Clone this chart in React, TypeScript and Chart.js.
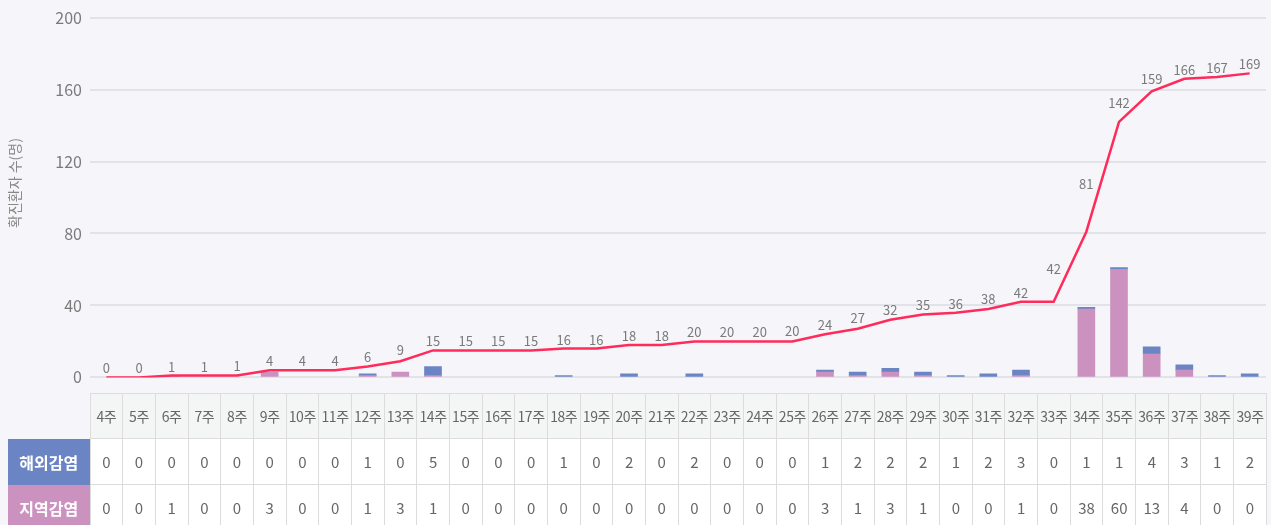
import React, { useEffect, useRef } from "react";
import { Chart, registerables } from "chart.js";

Chart.register(...registerables);

const weeks = [
  "4주", "5주", "6주", "7주", "8주", "9주", "10주", "11주", "12주", "13주", "14주", "15주",
  "16주", "17주", "18주", "19주", "20주", "21주", "22주", "23주", "24주", "25주", "26주", "27주",
  "28주", "29주", "30주", "31주", "32주", "33주", "34주", "35주", "36주", "37주", "38주", "39주",
];
const overseas = [0, 0, 0, 0, 0, 0, 0, 0, 1, 0, 5, 0, 0, 0, 1, 0, 2, 0, 2, 0, 0, 0, 1, 2, 2, 2, 1, 2, 3, 0, 1, 1, 4, 3, 1, 2];
const local = [0, 0, 1, 0, 0, 3, 0, 0, 1, 3, 1, 0, 0, 0, 0, 0, 0, 0, 0, 0, 0, 0, 3, 1, 3, 1, 0, 0, 1, 0, 38, 60, 13, 4, 0, 0];
const cumulative = [0, 0, 1, 1, 1, 4, 4, 4, 6, 9, 15, 15, 15, 15, 16, 16, 18, 18, 20, 20, 20, 20, 24, 27, 32, 35, 36, 38, 42, 42, 81, 142, 159, 166, 167, 169];
const yTicks = [0, 40, 80, 120, 160, 200];
const yTitle = "확진환자 수(명)";
const rowOverseas = "해외감염";
const rowLocal = "지역감염";

const FONT = "'Noto Sans CJK KR', 'Noto Sans', sans-serif";
const BLUE = "#6b84c4";
const PINK = "#cb92c0";
const RED = "#ff2b5a";
const BG = "#f6f6fa";

const labelPlugin = {
  id: "cumLabels",
  afterDatasetsDraw(chart: any) {
    const meta = chart.getDatasetMeta(2);
    const pts = meta.data;
    const ctx = chart.ctx;
    ctx.save();
    ctx.font = `13px ${FONT}`;
    ctx.fillStyle = "#7a7a7a";
    ctx.textAlign = "center";
    ctx.textBaseline = "middle";
    pts.forEach((p: any, i: number) => {
      let extra = 0;
      if (i < pts.length - 1) {
        const n = pts[i + 1];
        const slope = (p.y - n.y) / (n.x - p.x);
        extra = Math.max(0, 12 * slope - 1.5);
      }
      ctx.fillText(String(cumulative[i]), p.x, p.y - 9 - extra);
    });
    ctx.restore();
  },
  afterDraw(chart: any) {
    const ctx = chart.ctx;
    ctx.save();
    ctx.font = `14px ${FONT}`;
    ctx.fillStyle = "#888";
    ctx.textAlign = "center";
    ctx.textBaseline = "middle";
    ctx.translate(15, 183);
    ctx.rotate(-Math.PI / 2);
    ctx.fillText(yTitle, 0, 0);
    ctx.restore();
  },
};

const nz = (arr: number[]) => arr.map((v) => (v === 0 ? null : v));

export default function App() {
  const ref = useRef<HTMLCanvasElement | null>(null);
  useEffect(() => {
    if (!ref.current) return;
    const chart = new Chart(ref.current, {
      type: "bar",
      data: {
        labels: weeks,
        datasets: [
          {
            type: "bar",
            label: rowLocal,
            data: nz(local),
            backgroundColor: PINK,
            stack: "bars",
            order: 1,
            barThickness: 17,
          } as any,
          {
            type: "bar",
            label: rowOverseas,
            data: nz(overseas),
            backgroundColor: BLUE,
            stack: "bars",
            order: 1,
            barThickness: 17,
          } as any,
          {
            type: "line",
            label: "누적",
            data: cumulative,
            borderColor: RED,
            borderWidth: 2.5,
            pointRadius: 0,
            tension: 0,
            stack: "cum",
            order: 0,
          } as any,
        ],
      },
      options: {
        animation: false,
        responsive: true,
        maintainAspectRatio: false,
        layout: { padding: { top: 17, bottom: 15, left: 0, right: 5 } },
        plugins: { legend: { display: false }, tooltip: { enabled: false } },
        scales: {
          x: { display: false, stacked: true, offset: true },
          y: {
            stacked: true,
            min: 0,
            max: 200,
            afterBuildTicks: (s: any) => {
              s.ticks = yTicks.map((v) => ({ value: v }));
            },
            afterFit: (s: any) => {
              s.width = 90;
            },
            border: { display: false },
            grid: { color: "#e2e2e9", lineWidth: 2, drawTicks: false },
            ticks: {
              padding: 8,
              color: "#7a7a7a",
              font: { size: 16, family: FONT },
            },
          },
        },
      },
      plugins: [labelPlugin],
    });
    return () => chart.destroy();
  }, []);

  const cellBase: React.CSSProperties = {
    border: "1px solid #dcdcdc",
    textAlign: "center",
    padding: 0,
    fontSize: 15,
    color: "#666",
  };

  return (
    <div
      style={{
        position: "fixed",
        left: 0,
        top: 0,
        width: 1271,
        height: 525,
        background: BG,
        overflow: "hidden",
        fontFamily: FONT,
      }}
    >
      <div style={{ position: "absolute", left: 0, top: 0, width: 1271, height: 395 }}>
        <canvas ref={ref} />
      </div>
      <table
        style={{
          position: "absolute",
          left: 8,
          top: 393,
          width: 1259,
          borderCollapse: "collapse",
          tableLayout: "fixed",
        }}
      >
        <colgroup>
          <col style={{ width: 82 }} />
          {weeks.map((w) => (
            <col key={w} />
          ))}
        </colgroup>
        <tbody>
          <tr style={{ height: 45 }}>
            <td style={{ padding: 0, border: "none" }}></td>
            {weeks.map((w) => (
              <td
                key={w}
                style={{ ...cellBase, background: "#f4f6f5", fontSize: 14, letterSpacing: -0.4, whiteSpace: "nowrap" }}
              >
                {w}
              </td>
            ))}
          </tr>
          <tr style={{ height: 46 }}>
            <td
              style={{
                ...cellBase,
                background: BLUE,
                color: "#fff",
                fontWeight: 700,
                fontSize: 16,
                border: "none",
              }}
            >
              {rowOverseas}
            </td>
            {overseas.map((v, i) => (
              <td key={i} style={{ ...cellBase, background: "#fff" }}>
                {v}
              </td>
            ))}
          </tr>
          <tr style={{ height: 46 }}>
            <td
              style={{
                ...cellBase,
                background: PINK,
                color: "#fff",
                fontWeight: 700,
                fontSize: 16,
                border: "none",
              }}
            >
              {rowLocal}
            </td>
            {local.map((v, i) => (
              <td key={i} style={{ ...cellBase, background: "#fff" }}>
                {v}
              </td>
            ))}
          </tr>
        </tbody>
      </table>
    </div>
  );
}
